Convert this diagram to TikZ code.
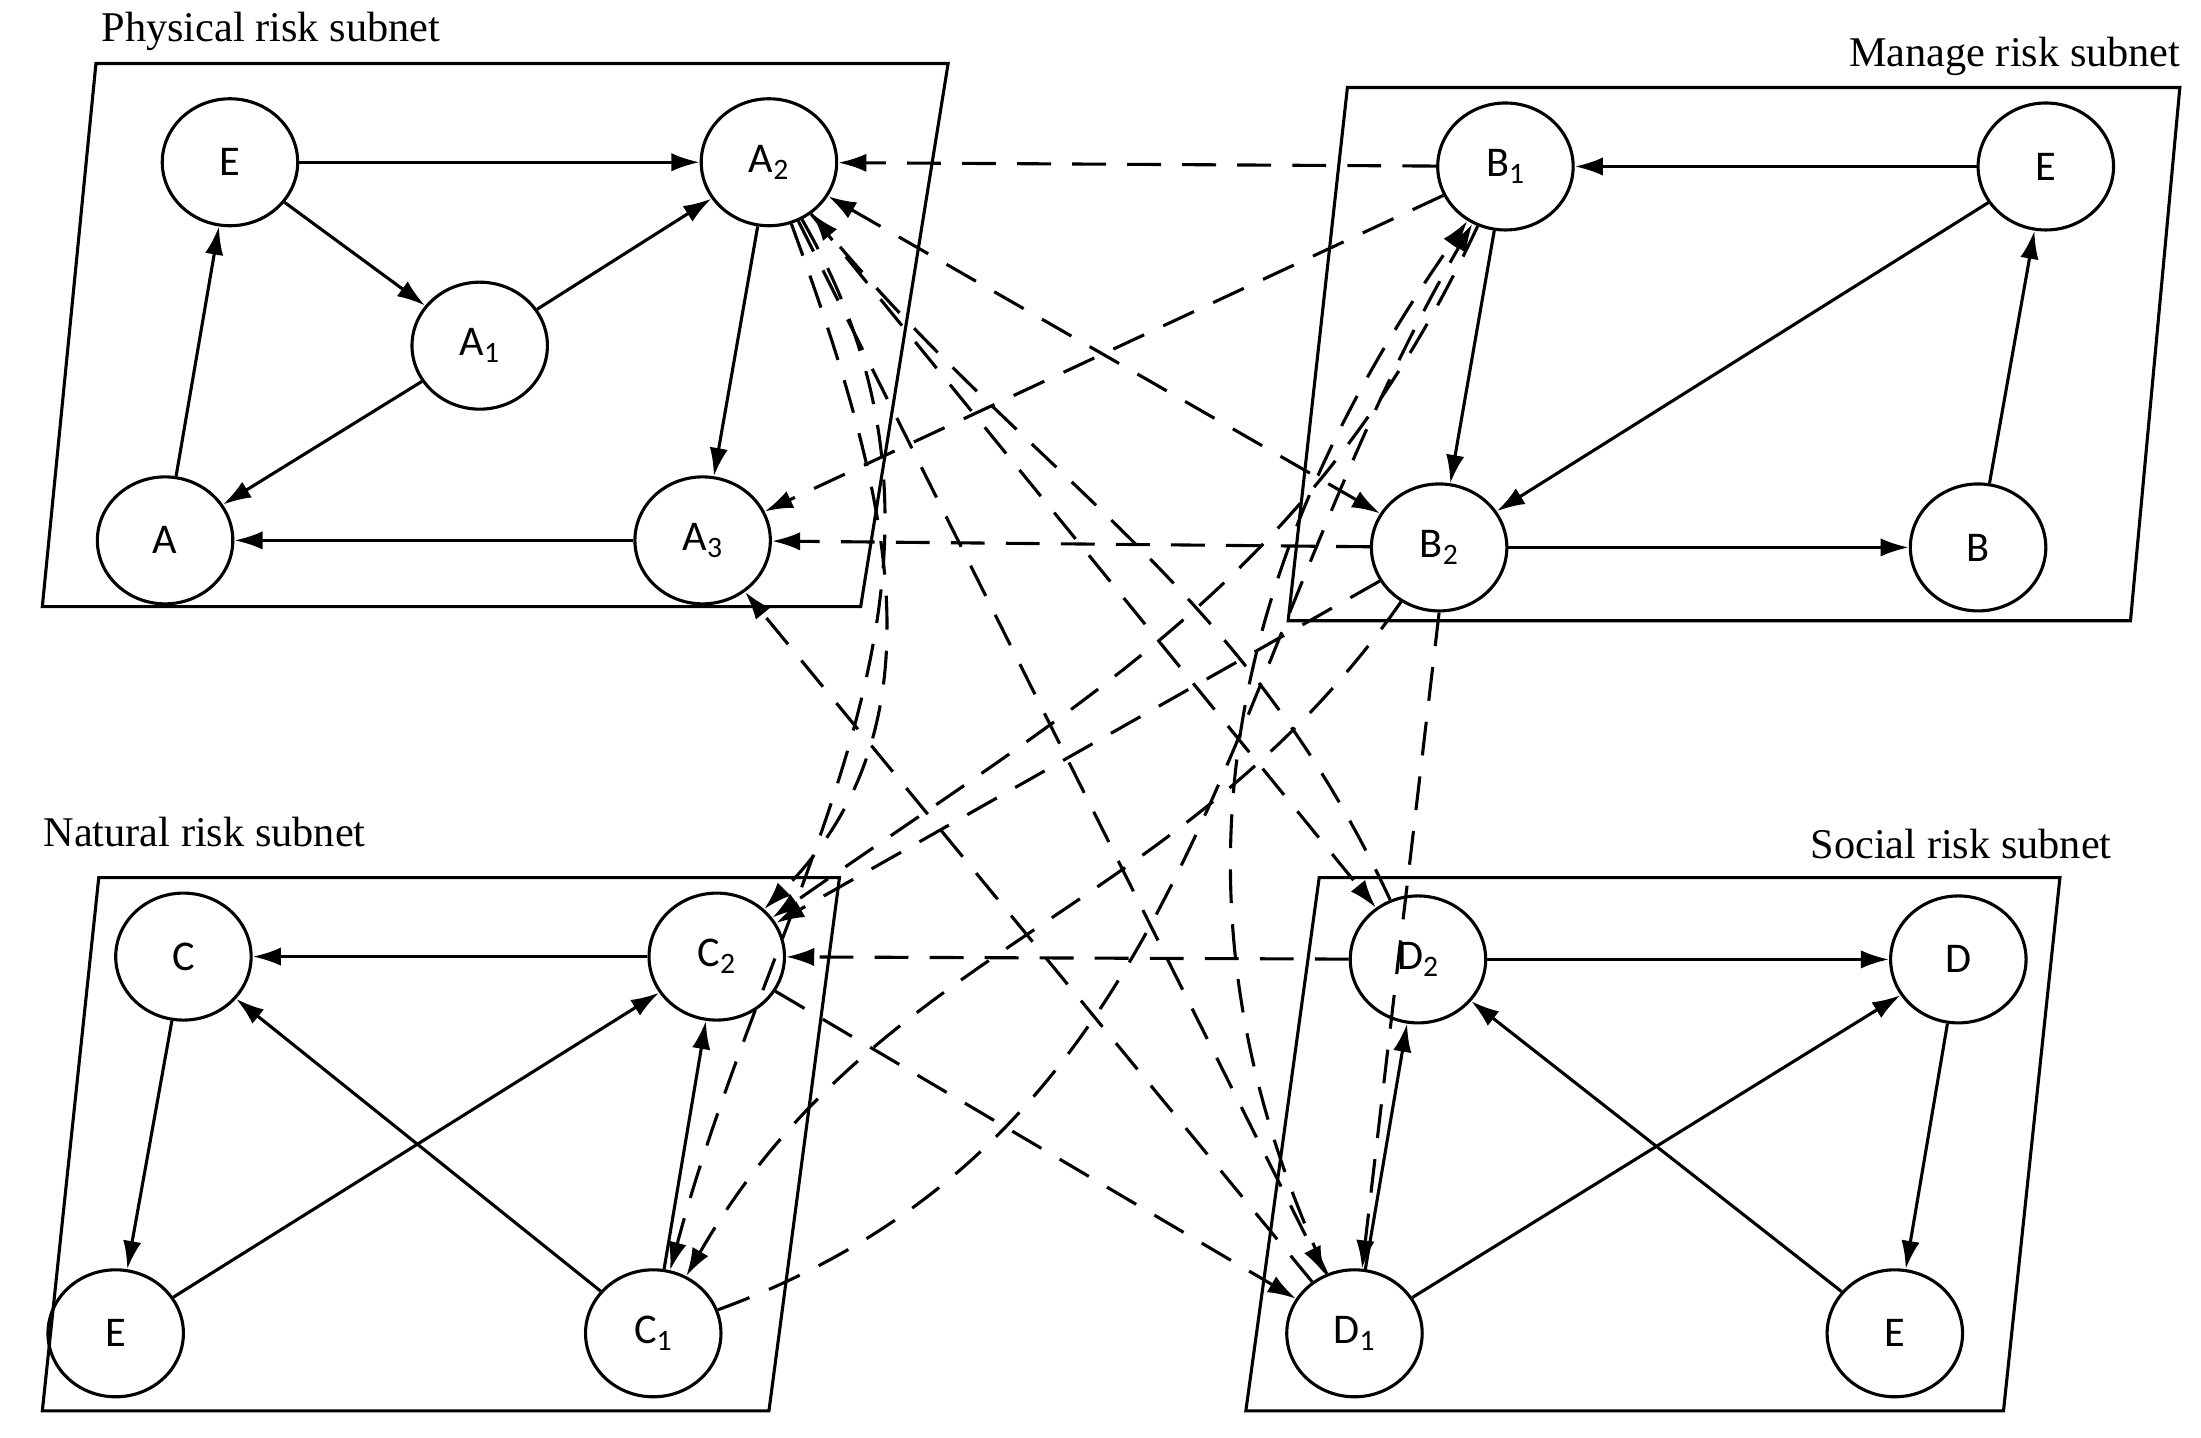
\documentclass[tikz,border=0pt]{standalone}
\usepackage{fontspec}
\setmainfont{Liberation Serif}
\newfontfamily\lab{Carlito}
\usetikzlibrary{shapes.geometric,arrows.meta}
\newcommand{\sbs}[1]{\textsubscript{#1}}
\begin{document}
\begin{tikzpicture}[x=1pt,y=-1pt,
  nd/.style={draw,ellipse,line width=2.2pt,minimum width=96pt,minimum height=90pt,inner sep=0pt,font=\lab\fontsize{30}{32}\selectfont},
  box/.style={draw,line width=2.2pt},
  ar/.style={line width=2.2pt,-{Latex[length=20pt,width=13pt]}},
  da/.style={ar,dash pattern=on 24pt off 15pt},
  dd/.style={da,{Latex[length=20pt,width=13pt]}-{Latex[length=20pt,width=13pt]}},
  ttl/.style={font=\fontsize{30}{32}\selectfont}]
\useasboundingbox (0,0) rectangle (1560,1019);
% boxes
\draw[box] (68,45)--(672,45)--(610,430)--(30,430)--cycle;
\draw[box] (955,62)--(1545,62)--(1510,440)--(913,440)--cycle;
\draw[box] (70,622)--(595,622)--(545,1000)--(30,1000)--cycle;
\draw[box] (935,622)--(1460,622)--(1420,1000)--(883,1000)--cycle;
\node[ttl] (t1) at (192,22) {Physical risk subnet};
\node[ttl] (t2) at (1428,40) {Manage risk subnet};
\node[ttl] (t3) at (145,590) {Natural risk subnet};
\node[ttl] (t4) at (1390,598) {Social risk subnet};
% nodes
\node[nd] (pE) at (163,115) {E};
\node[nd] (A2) at (545,115) {A\sbs{2}};
\node[nd] (A1) at (340,245) {A\sbs{1}};
\node[nd] (A) at (117,383) {A};
\node[nd] (A3) at (498,383) {A\sbs{3}};
\node[nd] (B1) at (1067,118) {B\sbs{1}};
\node[nd] (mE) at (1450,118) {E};
\node[nd] (B2) at (1020,388) {B\sbs{2}};
\node[nd] (B) at (1402,388) {B};
\node[nd] (C) at (130,678) {C};
\node[nd] (C2) at (508,678) {C\sbs{2}};
\node[nd] (nE) at (82,945) {E};
\node[nd] (C1) at (463,945) {C\sbs{1}};
\node[nd] (D2) at (1005,680) {D\sbs{2}};
\node[nd] (D) at (1388,680) {D};
\node[nd] (D1) at (960,945) {D\sbs{1}};
\node[nd] (sE) at (1343,945) {E};
% solid edges
\draw[ar] (pE)--(A2); \draw[ar] (pE)--(A1); \draw[ar] (A1)--(A2);
\draw[ar] (A2)--(A3); \draw[ar] (A1)--(A); \draw[ar] (A3)--(A); \draw[ar] (A)--(pE);
\draw[ar] (mE)--(B1); \draw[ar] (B1)--(B2); \draw[ar] (mE)--(B2); \draw[ar] (B2)--(B); \draw[ar] (B)--(mE);
\draw[ar] (C2)--(C); \draw[ar] (C)--(nE); \draw[ar] (nE)--(C2); \draw[ar] (C1)--(C); \draw[ar] (C1)--(C2);
\draw[ar] (D2)--(D); \draw[ar] (D)--(sE); \draw[ar] (sE)--(D2); \draw[ar] (D1)--(D2); \draw[ar] (D1)--(D);
% dashed edges
\draw[da] (B1)--(A2);
\draw[da] (B2)--(A3);
\draw[da] (D2)--(C2);
\draw[dd] (A2)--(B2);
\draw[da] (B1)--(A3);
\draw[da] (D1)--(A3);
\draw[da] (A2)--(D1);
\draw[da] (A2)--(D2);
\draw[da] (C2)--(D1);
\draw[da] (B2)--(C2);
\draw[da] (C1) to[out=20,in=240] (B1);
\draw[da] (B2) to[out=235,in=60] (C1);
\draw[da] (A2) to[out=-60,in=75] (C1);
\draw[da] (A2) to[out=-70,in=45] (C2);
\draw[da] (D1) to[out=115,in=235] (B1);
\draw[da] (B2.south) -- (D1);
\draw[da] (D2) to[out=115,in=-50] (A2);
\draw[da] (B1) to[out=245,in=35] (C2);
\end{tikzpicture}
\end{document}
